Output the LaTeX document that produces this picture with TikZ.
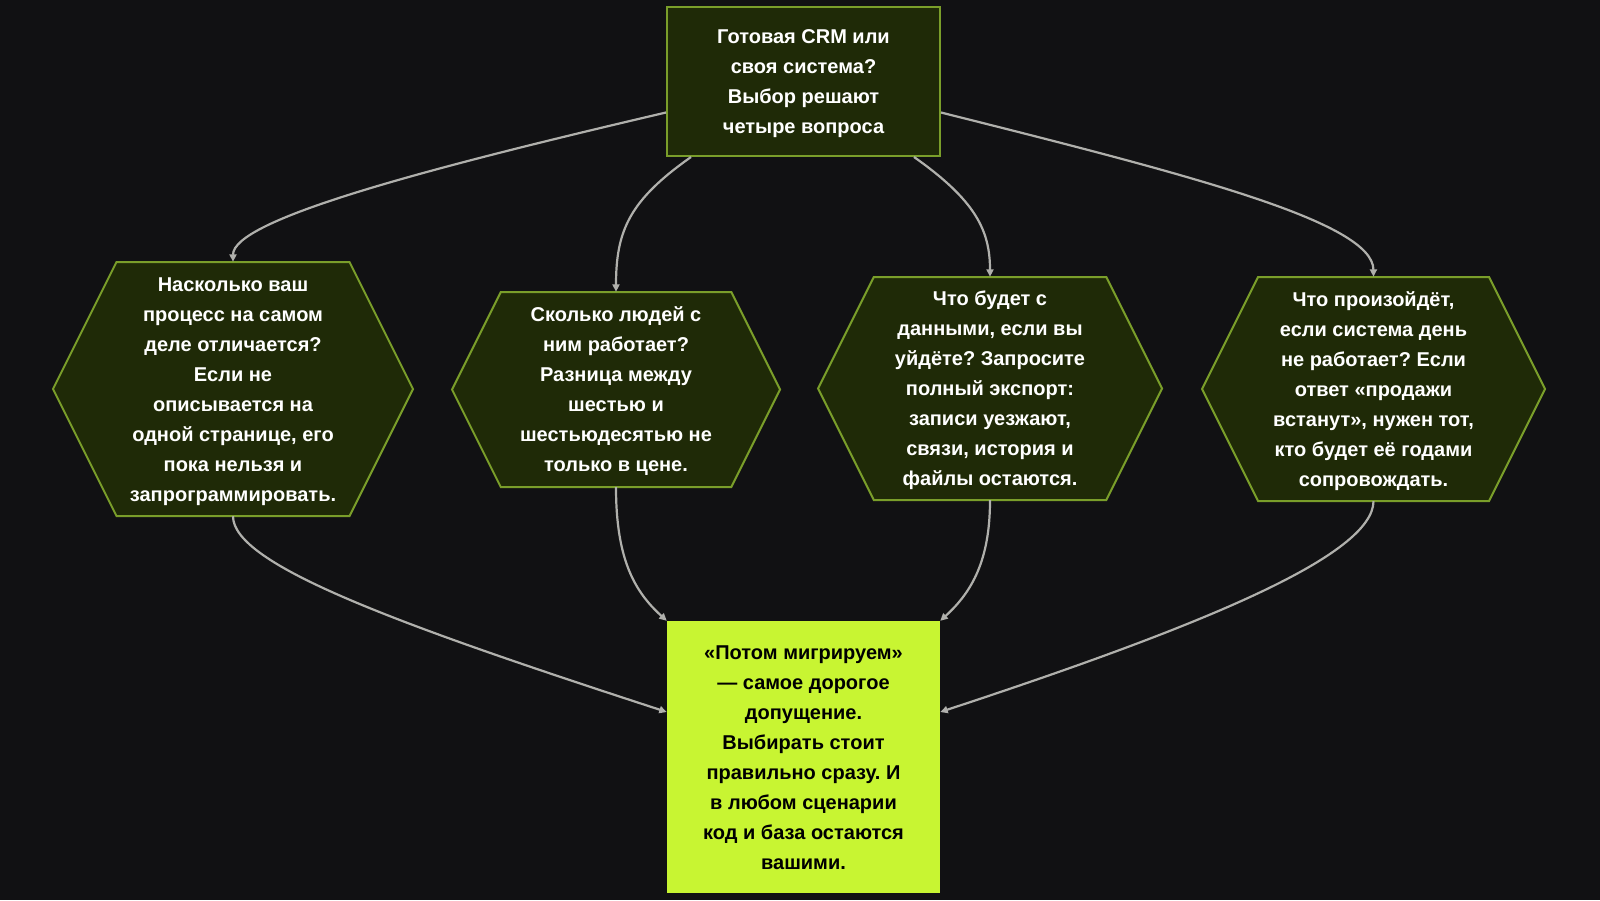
\documentclass[tikz,border=0pt]{standalone}
\usepackage{fontspec}
\setmainfont{Liberation Sans}
\frenchspacing
\usetikzlibrary{arrows.meta,calc}
\definecolor{bgc}{HTML}{111113}
\definecolor{boxfill}{HTML}{1F2A07}
\definecolor{boxline}{HTML}{7A9E2A}
\definecolor{edgec}{HTML}{B0B0AC}
\definecolor{limec}{HTML}{C8F532}
\newcommand{\vtxt}[1]{\rule{0pt}{19pt}#1\rule[-4.7pt]{0pt}{4.7pt}}
\newcommand{\hexnode}[6]{%
  \draw[hexline] ({#2-#4/2},#3) -- ({#2-#4/2+#5/4},{#3-#5/2}) -- ({#2+#4/2-#5/4},{#3-#5/2}) -- ({#2+#4/2},#3) -- ({#2+#4/2-#5/4},{#3+#5/2}) -- ({#2-#4/2+#5/4},{#3+#5/2}) -- cycle;
  \node[hexbox, minimum width=#4pt, minimum height=#5pt] (#1) at (#2,#3) {\vtxt{#6}};}
\begin{document}
\begin{tikzpicture}[x=1pt,y=-1pt,
  txt/.style={align=center,text=white,font=\fontsize{20}{30}\selectfont\bfseries,inner sep=0pt},
  box/.style={txt,draw=boxline,fill=boxfill,line width=2pt},
  finalbox/.style={txt,text=black,draw=none,fill=limec},
  hexbox/.style={txt,draw=none},
  hexline/.style={draw=boxline,fill=boxfill,line width=2pt,line join=miter},
  conn/.style={draw=edgec,line width=2.2pt,-{Triangle[length=7.5pt,width=7pt]}}]
\useasboundingbox (0,0) rectangle (1600,900);
\fill[bgc] (0,0) rectangle (1600,900);

\node[box,minimum width=273pt,minimum height=149pt] (top) at (803.5,81.5)
  {\vtxt{Готовая CRM или\\своя система?\\Выбор решают\\четыре вопроса}};

\hexnode{q1}{233}{389}{360}{254}{Насколько ваш\\процесс на самом\\деле отличается?\\Если не\\описывается на\\одной странице, его\\пока нельзя и\\запрограммировать.}
\hexnode{q2}{616}{389.5}{328}{195}{Сколько людей с\\ним работает?\\Разница между\\шестью и\\шестьюдесятью не\\только в цене.}
\hexnode{q3}{990}{388.5}{344}{223}{Что будет с\\данными, если вы\\уйдёте? Запросите\\полный экспорт:\\записи уезжают,\\связи, история и\\файлы остаются.}
\hexnode{q4}{1373.5}{389}{343}{224}{Что произойдёт,\\если система день\\не работает? Если\\ответ «продажи\\встанут», нужен тот,\\кто будет её годами\\сопровождать.}

\node[finalbox,minimum width=273pt,minimum height=272pt] (bot) at (803.5,757)
  {\vtxt{«Потом мигрируем»\\— самое дорогое\\допущение.\\Выбирать стоит\\правильно сразу. И\\в любом сценарии\\код и база остаются\\вашими.}};

\draw[conn] ($(top.west)+(0,31)$) .. controls (420,170) and (233,220) .. (q1.north);
\draw[conn] ($(top.south west)+(25,0)$) .. controls (630,200) and (616,230) .. (q2.north);
\draw[conn] ($(top.south east)+(-27,0)$) .. controls (975,200) and (990,230) .. (q3.north);
\draw[conn] ($(top.east)+(0,31)$) .. controls (1190,175) and (1373,222) .. (q4.north);

\draw[conn] (q1.south) .. controls (233,565) and (400,625) .. ($(bot.west)+(0,-45)$);
\draw[conn] (q2.south) .. controls (616,560) and (635,592) .. (bot.north west);
\draw[conn] (q3.south) .. controls (990,560) and (972,592) .. (bot.north east);
\draw[conn] (q4.south) .. controls (1373,555) and (1205,625) .. ($(bot.east)+(0,-45)$);
\end{tikzpicture}
\end{document}
